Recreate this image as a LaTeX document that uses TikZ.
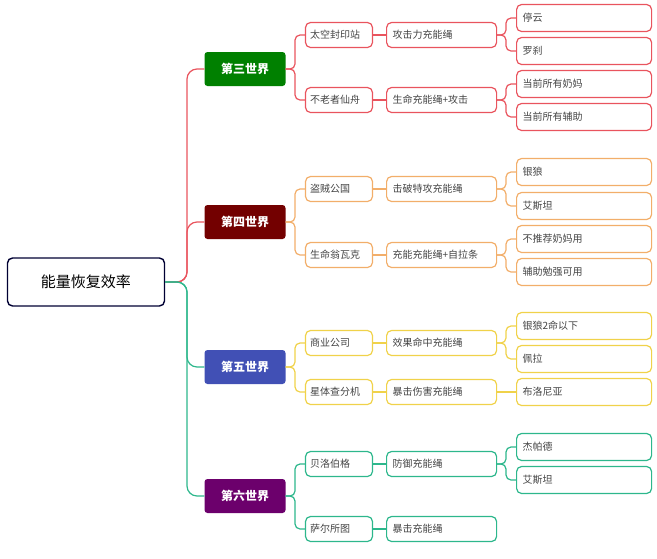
\documentclass[tikz,border=0pt]{standalone}
\usepackage{fontspec}
\setmainfont{Noto Sans CJK SC}
\usetikzlibrary{positioning}
\definecolor{cred}{HTML}{E9545E}
\definecolor{corg}{HTML}{F2AE6A}
\definecolor{cyel}{HTML}{F0D24A}
\definecolor{cgrn}{HTML}{2DB78C}
\definecolor{txt}{HTML}{444444}
\definecolor{wblue}{HTML}{4150B5}
\begin{document}
\begin{tikzpicture}[x=1pt,y=-1pt,
root/.style={rectangle, rounded corners=5pt, draw=black!80!blue, line width=1.4pt, minimum width=157, minimum height=48, font=\fontsize{15}{17}\selectfont},
world/.style={rectangle, rounded corners=3pt, fill=#1, text=white, minimum width=81, minimum height=34, font=\bfseries\fontsize{12}{14}\selectfont},
place/.style={rectangle, rounded corners=5pt, draw=#1, line width=1.2pt, text=txt, minimum width=67, minimum height=25, align=left, text width=58, font=\fontsize{10}{12}\selectfont},
rope/.style={place=#1, minimum width=110, anchor=west, text width=98},
hero/.style={place=#1, minimum width=135, minimum height=27, anchor=west, text width=123},
link/.style={draw=#1, line width=1.2pt, rounded corners=5pt}
]
\useasboundingbox (0,0) rectangle (657,558);
%Nodes
\node[root] (energy) at (86,282) {能量恢复效率};
\node[world=green!50!black] (w3) at (245,69) {第三世界};
\node[world=red!45!black] (w4) at (245,222) {第四世界};
\node[world=wblue] (w5) at (245,367) {第五世界};
\node[world=violet!85!black] (w6) at (245,496) {第六世界};

\node[place=cred] (space) at (339,35) {太空封印站};
\node[place=cred] (xianzhou) at (339,100) {不老者仙舟};
\node[place=corg] (thief) at (339,189) {盗贼公国};
\node[place=corg] (wongwak) at (339,255) {生命翁瓦克};
\node[place=cyel] (trade) at (339,343) {商业公司};
\node[place=cyel] (sorter) at (339,392) {星体查分机};
\node[place=cgrn] (belobog) at (339,464) {贝洛伯格};
\node[place=cgrn] (salsotto) at (339,529) {萨尔所图};

\node[rope=cred] (r_atk) at (386,35) {攻击力充能绳};
\node[rope=cred] (r_hp) at (386,100) {生命充能绳+攻击};
\node[rope=corg] (r_brk) at (386,189) {击破特攻充能绳};
\node[rope=corg] (r_self) at (386,255) {充能充能绳+自拉条};
\node[rope=cyel] (r_eff) at (386,343) {效果命中充能绳};
\node[rope=cyel] (r_crit) at (386,392) {暴击伤害充能绳};
\node[rope=cgrn] (r_def) at (386,464) {防御充能绳};
\node[rope=cgrn] (r_cri) at (386,529) {暴击充能绳};

\node[hero=cred] (tingyun) at (516,18) {停云};
\node[hero=cred] (luocha) at (516,51) {罗刹};
\node[hero=cred] (healers) at (516,84) {当前所有奶妈};
\node[hero=cred] (support) at (516,117) {当前所有辅助};
\node[hero=corg] (silverwolf) at (516,172) {银狼};
\node[hero=corg] (asta) at (516,206) {艾斯坦};
\node[hero=corg] (nohealer) at (516,239) {不推荐奶妈用};
\node[hero=corg] (weaksup) at (516,272) {辅助勉强可用};
\node[hero=cyel] (silverwolf2) at (516,326) {银狼2命以下};
\node[hero=cyel] (pela) at (516,359) {佩拉};
\node[hero=cyel] (bronya) at (516,392) {布洛尼亚};
\node[hero=cgrn] (gepard) at (516,447) {杰帕德};
\node[hero=cgrn] (asta2) at (516,480) {艾斯坦};

%Lines
\draw[link=cred, rounded corners=10pt] (energy.east) -- (187,282) |- (w3.west);
\draw[link=cred, rounded corners=10pt] (energy.east) -- (187,282) |- (w4.west);
\draw[link=cgrn, rounded corners=10pt] (energy.east) -- (187,282) |- (w5.west);
\draw[link=cgrn, rounded corners=10pt] (energy.east) -- (187,282) |- (w6.west);

\foreach \w/\a/\b/\c in {w3/space/xianzhou/cred, w4/thief/wongwak/corg, w5/trade/sorter/cyel, w6/belobog/salsotto/cgrn}{
  \draw[link=\c] (\w.east) -- (295,0 |- \w.east) |- (\a.west);
  \draw[link=\c] (\w.east) -- (295,0 |- \w.east) |- (\b.west);
}
\foreach \p/\r/\c in {space/r_atk/cred, xianzhou/r_hp/cred, thief/r_brk/corg, wongwak/r_self/corg, trade/r_eff/cyel, sorter/r_crit/cyel, belobog/r_def/cgrn, salsotto/r_cri/cgrn}
  \draw[link=\c] (\p.east) -- (\r.west);
\foreach \r/\a/\b/\c in {r_atk/tingyun/luocha/cred, r_hp/healers/support/cred, r_brk/silverwolf/asta/corg, r_self/nohealer/weaksup/corg, r_eff/silverwolf2/pela/cyel, r_def/gepard/asta2/cgrn}{
  \draw[link=\c] (\r.east) -- (506,0 |- \r.east) |- (\a.west);
  \draw[link=\c] (\r.east) -- (506,0 |- \r.east) |- (\b.west);
}
\draw[link=cyel] (r_crit.east) -- (bronya.west);
\end{tikzpicture}
\end{document}
